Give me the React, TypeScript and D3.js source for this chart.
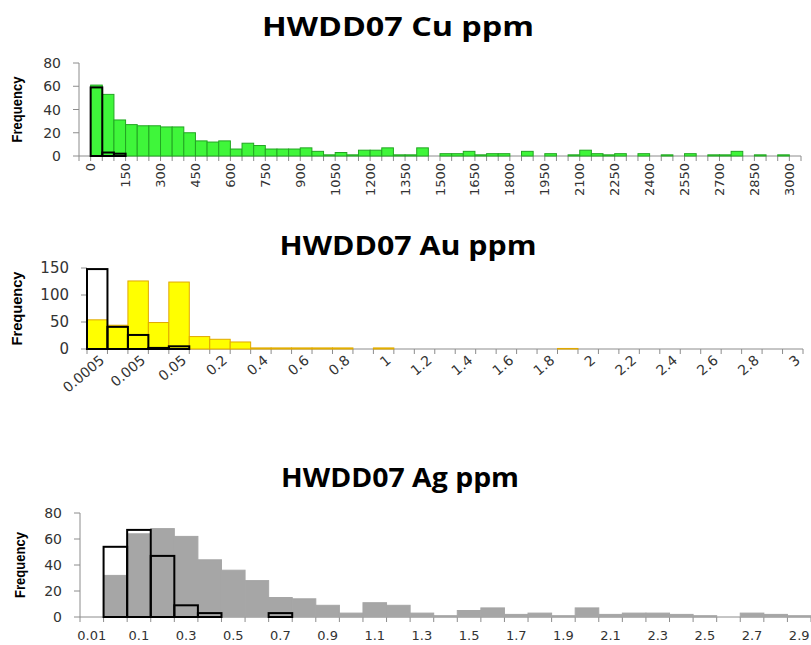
import React from "react";
import * as d3 from "d3";

// HWDD07 Cu ppm - bin upper limits and frequencies
const cuBins = [0, 50, 100, 150, 200, 250, 300, 350, 400, 450, 500, 550, 600, 650, 700, 750, 800, 850, 900, 950,
  1000, 1050, 1100, 1150, 1200, 1250, 1300, 1350, 1400, 1450, 1500, 1550, 1600, 1650, 1700, 1750, 1800, 1850, 1900, 1950,
  2000, 2050, 2100, 2150, 2200, 2250, 2300, 2350, 2400, 2450, 2500, 2550, 2600, 2650, 2700, 2750, 2800, 2850, 2900, 2950,
  3000, "More"];
const cuCounts = [0, 61, 53, 31, 27, 26, 26, 25, 25, 20, 13, 12, 13, 6, 11, 9, 6, 6, 6, 7,
  4, 1, 3, 1, 5, 5, 7, 1, 1, 7, 0, 2, 2, 4, 1, 2, 2, 0, 4, 0,
  2, 0, 1, 5, 2, 1, 2, 0, 2, 0, 1, 0, 2, 0, 1, 1, 4, 0, 1, 0,
  1, 0];
const cuOverlay = [0, 59, 3, 2];

// HWDD07 Au ppm
const auBins = ["0.0005", "0.001", "0.005", "0.01", "0.05", "0.1", "0.2", "0.3", "0.4", "0.5", "0.6", "0.7", "0.8", "0.9",
  "1", "1.1", "1.2", "1.3", "1.4", "1.5", "1.6", "1.7", "1.8", "1.9", "2", "2.1", "2.2", "2.3", "2.4", "2.5", "2.6",
  "2.7", "2.8", "2.9", "3"];
const auCounts = [54, 44, 126, 49, 124, 23, 18, 13, 2, 2, 2, 2, 2, 0, 2, 0, 0, 0, 0, 0, 0, 0, 0, 1,
  0, 0, 0, 0, 0, 0, 0, 0, 0, 0, 0];
const auOverlay = [148, 41, 26, 2, 5];

// HWDD07 Ag ppm
const agBins = ["0.01", "0.05", "0.1", "0.2", "0.3", "0.4", "0.5", "0.6", "0.7", "0.8", "0.9", "1", "1.1", "1.2",
  "1.3", "1.4", "1.5", "1.6", "1.7", "1.8", "1.9", "2", "2.1", "2.2", "2.3", "2.4", "2.5", "2.6", "2.7", "2.8", "2.9"];
const agCounts = [0, 32, 64, 68, 62, 44, 36, 28, 15, 14, 9, 3, 11, 9, 3, 1, 5, 7, 2, 3, 1, 7, 2, 3, 3, 2, 1, 0, 3, 2, 1];
const agOverlay = [0, 54, 67, 47, 9, 3, 0, 0, 3];

const tickFont = "'DejaVu Sans', Verdana, sans-serif";
const axisColor = "#8c8c8c";

function Histogram(props: any) {
  const { title, titleX, titleY, titleLen, titleSize, bins, counts, overlay, left, right, top, bottom, yMax,
    fill, stroke, labelMode, showLabel, yFont, freqX, freqLen } = props;
  const keys: string[] = bins.map(String);
  const x = d3.scaleBand<string>().domain(keys).range([left, right]).padding(0);
  const y = d3.scaleLinear().domain([0, yMax]).range([bottom, top]);
  const bw = x.bandwidth();
  const yTicks = y.ticks(4);
  const edges = d3.range(keys.length + 1).map((i) => left + i * bw);

  const label = (k: string, i: number) => {
    if (!showLabel(bins[i], i)) return null;
    const x0 = x(k) as number;
    if (labelMode === "vertical") {
      const lx = x0 + bw, ly = bottom + 7;
      return <text key={k} x={lx} y={ly} transform={`rotate(-90,${lx},${ly})`} textAnchor="end"
        dominantBaseline="central" fontSize={13}>{k}</text>;
    }
    if (labelMode === "diag") {
      const lx = x0 + bw / 2 + 5, ly = bottom + 9;
      return <text key={k} x={lx} y={ly} transform={`rotate(-40,${lx},${ly})`} textAnchor="end"
        dominantBaseline="central" fontSize={14}>{k}</text>;
    }
    return <text key={k} x={x0 + bw / 2} y={bottom + 23} textAnchor="middle" fontSize={13}>{k}</text>;
  };

  return (
    <g>
      <text x={titleX} y={titleY} textAnchor="middle" fontFamily="'Open Sans', sans-serif" fontWeight="bold"
        fontSize={titleSize} textLength={titleLen} lengthAdjust="spacingAndGlyphs">{title}</text>
      <text x={freqX} y={(top + bottom) / 2} transform={`rotate(-90,${freqX},${(top + bottom) / 2})`}
        textAnchor="middle" dominantBaseline="central" fontFamily="'Liberation Sans', Arial, sans-serif"
        fontWeight="bold" fontSize={14} textLength={freqLen} lengthAdjust="spacingAndGlyphs">Frequency</text>

      {/* y axis */}
      <line x1={left} x2={left} y1={top} y2={bottom} stroke={axisColor} />
      {yTicks.map((t) => (
        <g key={t}>
          <line x1={left - 6} x2={left} y1={y(t)} y2={y(t)} stroke={axisColor} />
          <text x={left - 18} y={y(t)} textAnchor="end" dominantBaseline="central" fontFamily={tickFont}
            fontSize={yFont} fill="#333">{t}</text>
        </g>
      ))}

      {/* x axis */}
      <line x1={left} x2={right} y1={bottom} y2={bottom} stroke={axisColor} />
      {edges.map((e, i) => (
        <line key={i} x1={e} x2={e} y1={bottom} y2={bottom + 5} stroke={axisColor} />
      ))}

      {counts.map((c: number, i: number) => c > 0 && (
        <rect key={i} x={x(keys[i])} y={y(c)} width={bw} height={y(0) - y(c)} fill={fill} stroke={stroke} />
      ))}
      {overlay.map((c: number, i: number) => c > 0 && (
        <rect key={i} x={x(keys[i])} y={y(c)} width={bw} height={y(0) - y(c)} fill="none" stroke="#000"
          strokeWidth={2} />
      ))}

      <g fontFamily={tickFont} fill="#333">{keys.map(label)}</g>
    </g>
  );
}

export default function App() {
  return (
    <svg width={811} height={645} style={{ position: "absolute", left: 0, top: 0, background: "#fff" }}>
      <Histogram title="HWDD07 Cu ppm" titleX={398} titleY={36} titleLen={272} titleSize={26}
        bins={cuBins} counts={cuCounts} overlay={cuOverlay} left={79} right={801} top={63} bottom={156}
        yMax={80} fill="#3ff63a" stroke="#22a622" labelMode="vertical"
        showLabel={(b: any) => typeof b === "number" && b % 150 === 0} yFont={14} freqX={17} freqLen={66} />
      <Histogram title="HWDD07 Au ppm" titleX={408} titleY={255} titleLen={257} titleSize={26}
        bins={auBins} counts={auCounts} overlay={auOverlay} left={87} right={803} top={268} bottom={349}
        yMax={150} fill="#ffff00" stroke="#e0a800" labelMode="diag"
        showLabel={(_b: any, i: number) => i % 2 === 0} yFont={15} freqX={17} freqLen={74} />
      <Histogram title="HWDD07 Ag ppm" titleX={400} titleY={487} titleLen={238} titleSize={26}
        bins={agBins} counts={agCounts} overlay={agOverlay} left={80} right={811} top={513} bottom={617}
        yMax={80} fill="#a6a6a6" stroke="#a6a6a6" labelMode="flat"
        showLabel={(_b: any, i: number) => i % 2 === 0} yFont={14} freqX={20} freqLen={66} />
    </svg>
  );
}
